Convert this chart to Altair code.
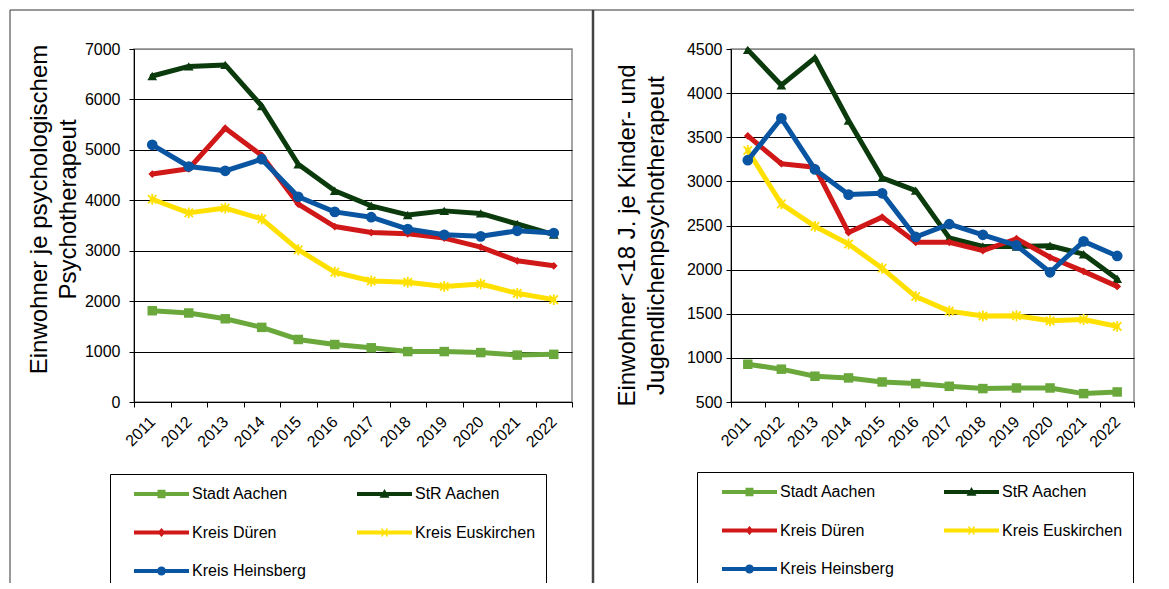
import altair as alt
import pandas as pd

years = list(range(2011, 2023))
series = ["Stadt Aachen", "StR Aachen", "Kreis Düren", "Kreis Euskirchen", "Kreis Heinsberg"]
colors = ["#6BA83C", "#0B3B0C", "#D01818", "#FFE000", "#0A55A2"]

# left: Einwohner je psychologischem Psychotherapeut
left_stadt = [1810, 1765, 1650, 1480, 1240, 1140, 1075, 1000, 1000, 980, 930, 945]
left_str = [6465, 6655, 6685, 5870, 4715, 4190, 3890, 3710, 3790, 3740, 3530, 3320]
left_dueren = [4520, 4625, 5430, 4890, 3925, 3480, 3360, 3335, 3250, 3070, 2800, 2700]
left_eusk = [4020, 3750, 3845, 3630, 3020, 2575, 2400, 2375, 2290, 2340, 2155, 2030]
left_heins = [5100, 4670, 4585, 4815, 4070, 3770, 3665, 3430, 3315, 3285, 3395, 3350]

# right: Einwohner <18 J. je Kinder- und Jugendlichenpsychotherapeut
right_stadt = [928, 872, 792, 773, 727, 709, 678, 652, 659, 659, 595, 614]
right_str = [4490, 4090, 4400, 3690, 3040, 2895, 2360, 2263, 2263, 2270, 2175, 1895]
right_dueren = [3515, 3200, 3160, 2420, 2595, 2310, 2310, 2215, 2350, 2140, 1980, 1810]
right_eusk = [3350, 2745, 2490, 2290, 2015, 1695, 1530, 1475, 1478, 1420, 1435, 1357]
right_heins = [3240, 3715, 3135, 2850, 2865, 2370, 2515, 2395, 2275, 1970, 2320, 2155]

left_title = ["Einwohner je psychologischem", "Psychotherapeut"]
right_title = ["Einwohner <18 J. je Kinder- und", "Jugendlichenpsychotherapeut"]

FONT = "Liberation Sans"

marker_shapes = ["square", "triangle-up", "diamond", "M-1,-1L1,1M-1,1L1,-1M0,-1.3L0,1.3", "circle"]
marker_sizes = [90, 95, 60, 70, 115]
marker_filled = [True, True, True, False, True]

LINE = "M-1,-0.2L4.5,-0.2L4.5,0.2L-1,0.2Z"
legend_paths = [
    LINE + "M1.35,-0.42L2.15,-0.42L2.15,0.42L1.35,0.42Z",
    LINE + "M1.75,-0.5L2.25,0.38L1.25,0.38Z",
    LINE + "M1.75,-0.45L2.15,0L1.75,0.45L1.35,0Z",
    LINE + "M1.4,-0.35L1.5,-0.45L2.1,0.35L2.0,0.45ZM2.0,-0.45L2.1,-0.35L1.5,0.45L1.4,0.35Z",
    LINE + "M2.2,0A0.45,0.45 0 1,1 1.3,0A0.45,0.45 0 1,1 2.2,0Z",
]


def long_df(lists):
    rows = []
    for s, vals in zip(series, lists):
        for yr, v in zip(years, vals):
            rows.append({"year": yr, "value": v, "series": s})
    return pd.DataFrame(rows)


def panel(lists, ymin, ymax, ystep, title_lines, width, title_x, title_y, label_pad,
          legend_x, legend_y, col_pad, title_pad, frame_left, frame_right, divider):
    df = long_df(lists)
    yvals = list(range(ymin, ymax + 1, ystep))
    x_enc = alt.X(
        "year:Q", title=None,
        scale=alt.Scale(domain=[2010.5, 2022.5], nice=False, zero=False),
        axis=alt.Axis(
            values=[2010.5 + i for i in range(13)],
            labelExpr="datum.value > 2022 ? '' : format(datum.value + 0.5, 'd')",
            labelAngle=-45, labelAlign="right", labelBaseline="middle",
            labelOffset=width / 24, labelPadding=12, tickSize=5, grid=False,
            labelOverlap=False, labelFlush=False, labelFontSize=16,
        ),
    )
    y_enc = alt.Y(
        "value:Q", title=title_lines,
        scale=alt.Scale(domain=[ymin, ymax], nice=False, zero=False),
        axis=alt.Axis(
            values=yvals, format="d", grid=True,
            gridColor={"condition": {"test": f"datum.value >= {ymax}", "value": "#888888"}, "value": "#000000"},
            tickSize=5, labelPadding=label_pad, labelFontSize=16,
            titleX=title_x, titleY=title_y, titleAngle=-90, titleAlign="center",
            titleBaseline="top", titleLineHeight=29, titleFontSize=24,
            titleFontWeight="normal", labelOverlap=False,
        ),
    )
    one = pd.DataFrame({"k": [0]})
    layers = []
    if frame_left is not None:
        layers.append(alt.Chart(one).mark_rule(color="#333333", strokeWidth=1).encode(
            x=alt.value(frame_left), y=alt.value(-39), y2=alt.value(560)))
    if divider is not None:
        layers.append(alt.Chart(one).mark_rule(color="#444444", strokeWidth=2.5).encode(
            x=alt.value(divider), y=alt.value(-39), y2=alt.value(560)))
    start = frame_left if frame_left is not None else divider
    layers.append(alt.Chart(one).mark_rule(color="#333333", strokeWidth=1).encode(
        x=alt.value(start), x2=alt.value(frame_right), y=alt.value(-39)))

    for s, c, shp, sz, fl in zip(series, colors, marker_shapes, marker_sizes, marker_filled):
        sub = alt.Chart(df).transform_filter(alt.datum.series == s)
        layers.append(sub.mark_line(color=c, strokeWidth=5, strokeJoin="round", strokeCap="round").encode(
            x=x_enc, y=y_enc))
        layers.append(sub.mark_point(shape=shp, size=sz, filled=fl, color=c, opacity=1,
                                     strokeWidth=(0 if fl else 1.8)).encode(x=x_enc, y=y_enc))

    leg = alt.Legend(
        title=" ", titleOrient="left", titlePadding=title_pad, titleFontSize=11,
        orient="none", legendX=legend_x, legendY=legend_y, columns=2, direction="horizontal",
        columnPadding=col_pad, rowPadding=20.5, padding=10, strokeColor="black",
        labelFont=FONT, labelFontSize=16, labelColor="black", symbolSize=400,
        symbolStrokeWidth=0, labelOffset=38, symbolOffset=0, labelLimit=300,
    )
    layers.append(
        alt.Chart(df).transform_filter("false").mark_point(filled=True, opacity=1).encode(
            x=x_enc, y=y_enc,
            color=alt.Color("series:N", scale=alt.Scale(domain=series, range=colors), legend=leg),
            shape=alt.Shape("series:N", scale=alt.Scale(domain=series, range=legend_paths), legend=leg),
        )
    )
    return alt.layer(*layers).properties(width=width, height=353)


left = panel([left_stadt, left_str, left_dueren, left_eusk, left_heins], 0, 7000, 1000,
             left_title, 438, -107, 160, 9, -24, 425, 51, 14, -124, 459, None)
right = panel([right_stadt, right_str, right_dueren, right_eusk, right_heins], 500, 4500, 500,
              right_title, 403, -116, 186, 4, -34, 423, 50, 15, None, 403, -138)

chart = alt.hconcat(left, right, spacing=159, bounds="flush").resolve_scale(
    color="independent", shape="independent"
).resolve_legend(
    color="independent", shape="independent"
).properties(
    padding={"left": 0, "top": 0, "right": 0, "bottom": -28}
).configure_view(
    stroke="#888888", strokeWidth=1.5
).configure_axis(
    labelFont=FONT, titleFont=FONT, labelColor="black", titleColor="black",
    domainColor="black", tickColor="black", domainWidth=1, tickWidth=1,
)

chart.save("out.html", embed_options={"renderer": "svg", "actions": False})
